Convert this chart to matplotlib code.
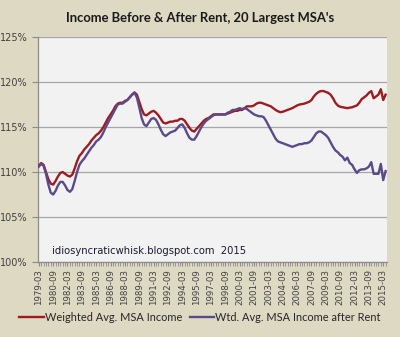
import numpy as np
import matplotlib
matplotlib.use("Agg")
import matplotlib.pyplot as plt
from matplotlib.ticker import MultipleLocator, FuncFormatter

# quarterly data, 1979Q1 .. 2015Q2 (index relative to 100)
weighted = [110.7, 111.0, 110.8, 110.0, 109.2, 108.7, 108.6, 109.0, 109.5, 109.9,
            110.0, 109.8, 109.6, 109.5, 109.7, 110.4, 111.2, 111.8, 112.1, 112.5,
            112.8, 113.1, 113.5, 113.8, 114.1, 114.3, 114.6, 115.0, 115.5, 116.0,
            116.4, 116.8, 117.3, 117.6, 117.7, 117.7, 117.9, 118.0, 118.3, 118.6,
            118.85, 118.6, 117.8, 117.0, 116.4, 116.3, 116.5, 116.7, 116.8, 116.6,
            116.3, 115.9, 115.5, 115.4, 115.5, 115.6, 115.6, 115.7, 115.7, 115.9,
            115.9, 115.7, 115.3, 114.9, 114.6, 114.5, 114.8, 115.1, 115.4, 115.7,
            115.9, 116.0, 116.2, 116.4, 116.4, 116.4, 116.4, 116.4, 116.4, 116.5,
            116.6, 116.7, 116.8, 116.8, 116.9, 116.9, 117.1, 117.3, 117.3, 117.3,
            117.4, 117.6, 117.7, 117.7, 117.6, 117.5, 117.4, 117.3, 117.1, 116.9,
            116.75, 116.65, 116.7, 116.8, 116.9, 117.0, 117.1, 117.25, 117.4, 117.5,
            117.55, 117.6, 117.7, 117.8, 118.0, 118.4, 118.7, 118.9, 119.0, 119.0,
            118.9, 118.8, 118.6, 118.2, 117.7, 117.4, 117.25, 117.2, 117.15, 117.1,
            117.15, 117.2, 117.3, 117.4, 117.7, 118.1, 118.3, 118.5, 118.8, 119.0,
            118.2, 118.4, 118.6, 119.2, 118.0, 118.6]

after_rent = [110.6, 110.9, 110.7, 109.8, 108.6, 107.7, 107.5, 107.9, 108.5, 108.9,
              108.9, 108.5, 108.0, 107.8, 108.1, 109.0, 110.0, 110.8, 111.2, 111.5,
              111.9, 112.3, 112.7, 113.0, 113.4, 113.6, 113.9, 114.4, 115.0, 115.5,
              116.0, 116.5, 117.0, 117.5, 117.6, 117.6, 117.8, 118.0, 118.3, 118.6,
              118.8, 118.3, 117.2, 116.0, 115.3, 115.1, 115.5, 115.9, 116.0, 115.8,
              115.3, 114.7, 114.2, 114.0, 114.2, 114.4, 114.5, 114.6, 114.9, 115.2,
              115.3, 114.9, 114.3, 113.8, 113.6, 113.6, 114.0, 114.5, 115.0, 115.4,
              115.7, 115.9, 116.1, 116.3, 116.4, 116.4, 116.4, 116.4, 116.4, 116.6,
              116.7, 116.9, 116.9, 117.0, 117.1, 117.0, 117.1, 117.0, 116.8, 116.6,
              116.4, 116.3, 116.2, 116.2, 116.1, 115.7, 115.2, 114.7, 114.2, 113.7,
              113.4, 113.3, 113.2, 113.1, 113.0, 112.9, 112.8, 112.9, 113.0, 113.1,
              113.1, 113.2, 113.2, 113.3, 113.5, 113.9, 114.3, 114.5, 114.5, 114.3,
              114.1, 113.8, 113.3, 112.8, 112.4, 112.2, 111.9, 111.7, 111.3, 111.6,
              111.0, 110.8, 110.3, 109.9, 110.2, 110.3, 110.3, 110.4, 110.6, 111.1,
              109.8, 109.8, 109.8, 110.9, 109.1, 110.1]

years = np.arange(1979, 2016)
quarters = [f"{y}-{m}" for y in years for m in ("03", "06", "09", "12")][:len(weighted)]

bg = "#DDD9C3"
red = "#9E1B1F"
purple = "#5B4A8A"
txt = "#404040"

fig = plt.figure(figsize=(4, 3.37), dpi=100, facecolor=bg)
ax = fig.add_axes([0.094, 0.2226, 0.873, 0.6674])
ax.set_facecolor("#F2F2F2")

x = np.arange(len(weighted))
ax.plot(x, weighted, color=red, lw=1.7, label="Weighted Avg. MSA Income", zorder=3)
ax.plot(x, after_rent, color=purple, lw=1.7, label="Wtd. Avg. MSA Income after Rent", zorder=3)

ax.set_ylim(100, 125)
ax.set_xlim(-0.5, len(weighted) - 0.5)
ax.yaxis.set_major_locator(MultipleLocator(5))
ax.yaxis.set_major_formatter(FuncFormatter(lambda v, p: f"{v:.0f}%"))
ax.grid(axis="y", color="#A6A6A6", lw=0.9, zorder=1)

ticks = list(range(0, len(weighted), 6))
ax.set_xticks(ticks)
ax.set_xticklabels([quarters[i] for i in ticks], rotation=90, fontsize=6.2, color=txt,
                   family="DejaVu Sans")
ax.set_xticks(x, minor=True)
ax.tick_params(axis="x", which="both", length=3, color="#8C8C8C", pad=2)
ax.tick_params(axis="y", length=4, color="#8C8C8C", labelsize=7, labelcolor=txt, pad=3)

for s in ("top", "right"):
    ax.spines[s].set_visible(False)
for s in ("left", "bottom"):
    ax.spines[s].set_color("#8C8C8C")
    ax.spines[s].set_linewidth(0.9)

ax.text(0.041, 0.035, "idiosyncraticwhisk.blogspot.com  2015", transform=ax.transAxes,
        fontsize=7.2, color="#1A1A33", family="DejaVu Sans")

fig.text(0.5, 0.948, "Income Before & After Rent, 20 Largest MSA's", ha="center", va="center",
         fontsize=9.4, fontweight="bold", color="#1A1A1A", family="Lato")

fig.legend(loc="center", bbox_to_anchor=(0.5, 0.058), ncol=2, frameon=False,
           prop={"family": "Lato", "size": 7.9}, handlelength=2.2, handletextpad=0.1,
           columnspacing=0.7, labelcolor="#262626")

fig.savefig("out.png", dpi=100, facecolor=bg)
